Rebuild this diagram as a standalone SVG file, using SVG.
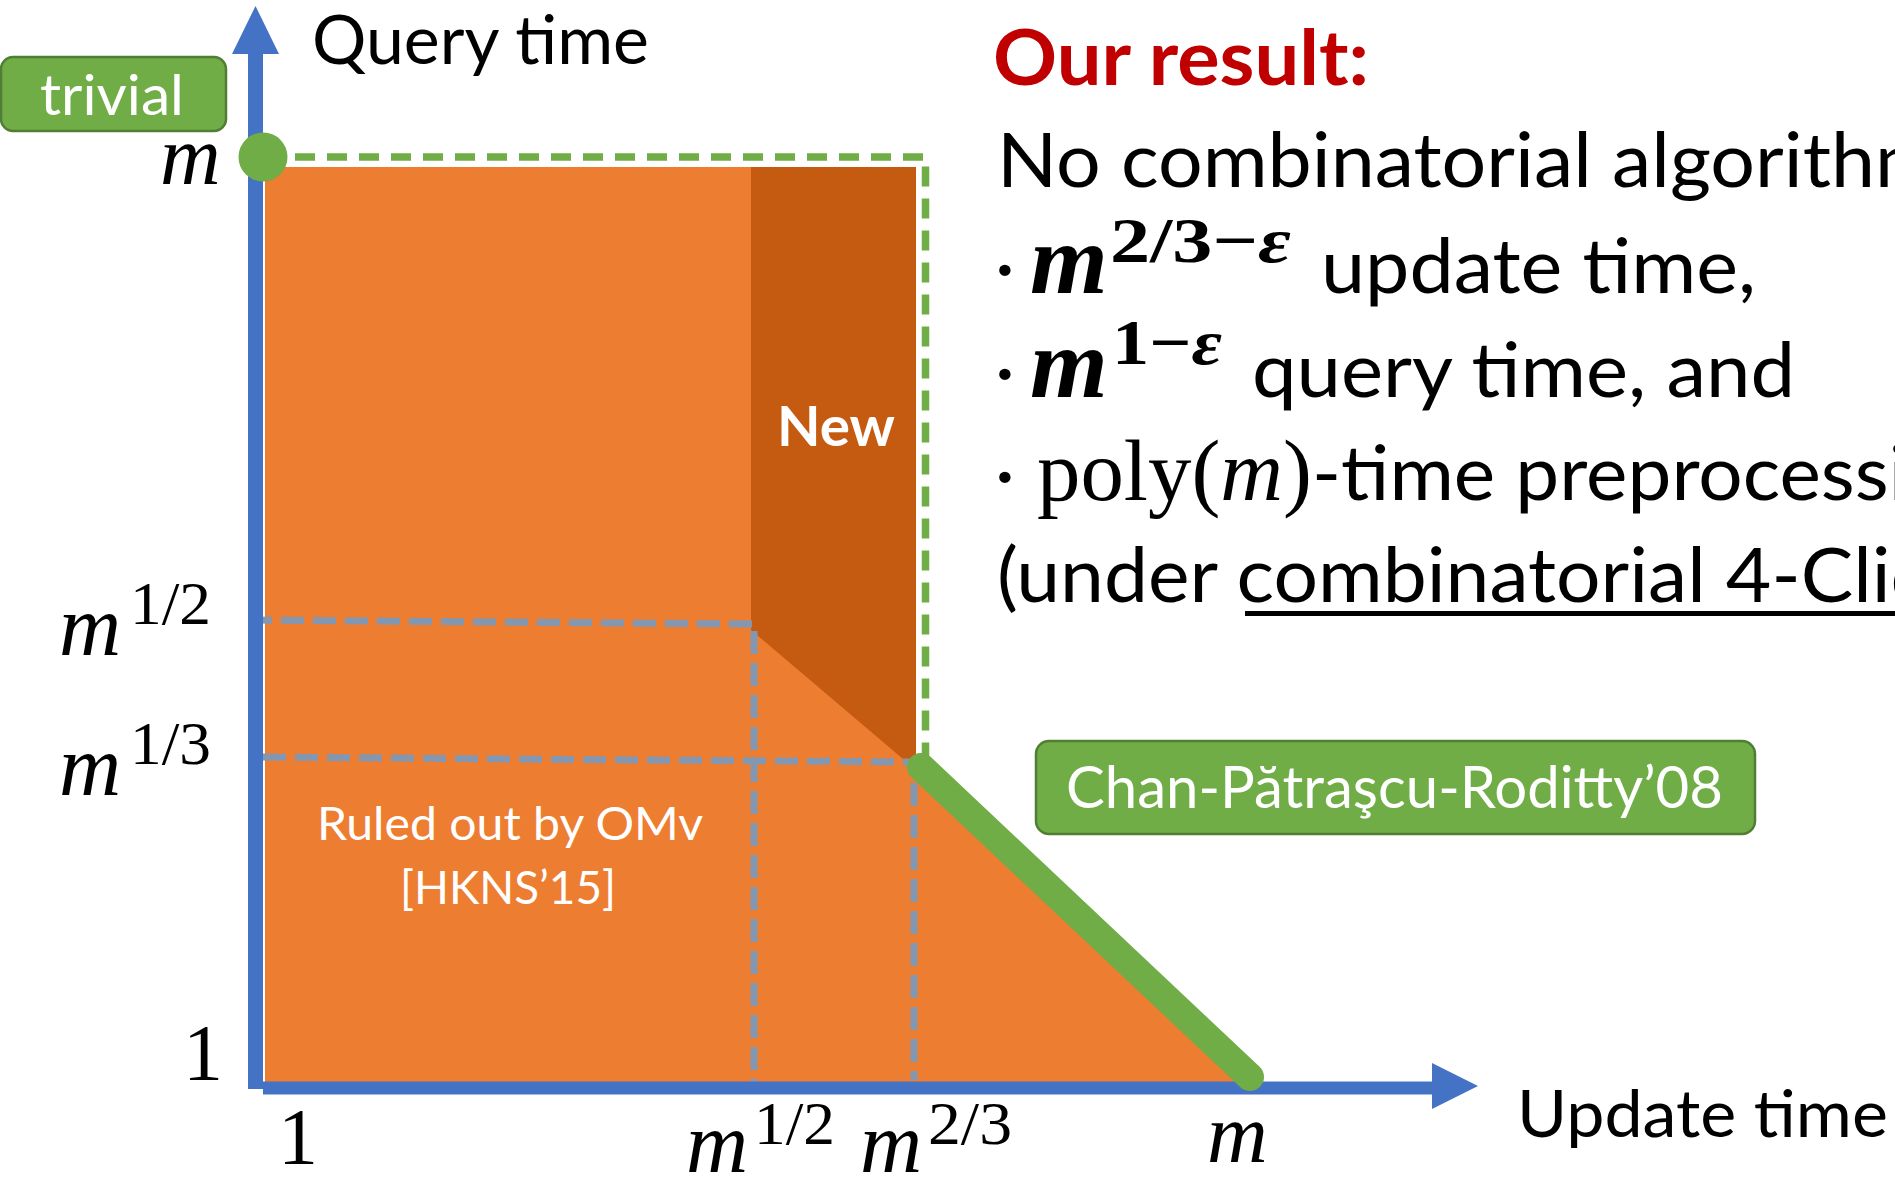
<svg xmlns="http://www.w3.org/2000/svg" width="1895" height="1181" viewBox="0 0 1895 1181">
<style>
.sans{font-family:Lato,"Open Sans","Liberation Sans",sans-serif;}
.serif{font-family:"Liberation Serif","DejaVu Serif",serif;}
.mi{font-family:"Liberation Serif","DejaVu Serif",serif;font-style:italic;}
.mb{font-family:"Liberation Serif","DejaVu Serif",serif;font-style:italic;font-weight:bold;}
.sb{font-family:"Liberation Serif","DejaVu Serif",serif;font-weight:bold;}
.white{fill:#FFFFFF;}
.black{fill:#000000;}
.gdash{fill:none;stroke:#8497B0;stroke-width:7;stroke-dasharray:23 9;}
.box{fill:#70AD47;stroke:#507E32;stroke-width:2.5;}
</style>
<rect x="0" y="0" width="1895" height="1181" fill="#FFFFFF"/>

<g id="regions">
  <polygon id="ruled-out" points="265,167 916,167 916,768 1242,1082 265,1082" fill="#ED7D31"/>
  <polygon id="new-region" points="751,167 916,167 916,770 751,630" fill="#C55A11"/>
</g>

<g id="guides">
  <path class="gdash" d="M249,620 L754,624 L754,1082"/>
  <path class="gdash" d="M263,757 L914,762 L914,1080"/>
  <path d="M263,157 L925.5,157 L925.5,762" fill="none" stroke="#70AD47" stroke-width="7.5" stroke-dasharray="20 12"/>
</g>

<g id="connectors">
  <line x1="255.5" y1="1089" x2="255.5" y2="50" stroke="#4472C4" stroke-width="15"/>
  <polygon points="255.5,6 232,54 279,54" fill="#4472C4"/>
  <line x1="263" y1="1088" x2="1436" y2="1088" stroke="#4472C4" stroke-width="13"/>
  <polygon points="1478,1086 1432,1063 1432,1109" fill="#4472C4"/>
  <line id="cpr-line" x1="921" y1="767" x2="1250" y2="1077" stroke="#70AD47" stroke-width="28" stroke-linecap="round"/>
</g>

<g id="trivial-dot">
  <circle cx="263" cy="157" r="24.5" fill="#70AD47"/>
</g>

<g id="node-trivial">
  <rect class="box" x="1" y="57" width="225" height="74" rx="12"/>
  <text class="sans white" x="40" y="115" font-size="57" textLength="144" lengthAdjust="spacingAndGlyphs">trivial</text>
</g>

<g id="node-cpr">
  <rect class="box" x="1036" y="741" width="719" height="93" rx="13"/>
  <text class="sans white" x="1066" y="808" font-size="58" textLength="657" lengthAdjust="spacingAndGlyphs">Chan-Pătraşcu-Roditty’08</text>
</g>

<g id="label-new">
  <text class="sans white" x="777" y="446" font-size="56" font-weight="bold" textLength="118" lengthAdjust="spacingAndGlyphs">New</text>
</g>

<g id="label-ruled">
  <text class="sans white" x="317" y="840" font-size="47" textLength="386" lengthAdjust="spacingAndGlyphs">Ruled out by OMv</text>
  <text class="sans white" x="400" y="904" font-size="47" textLength="216" lengthAdjust="spacingAndGlyphs">[HKNS’15]</text>
</g>

<g id="axis-titles">
  <text class="sans black" x="312" y="64" font-size="67" textLength="337" lengthAdjust="spacingAndGlyphs">Query time</text>
  <text class="sans black" x="1517" y="1137" font-size="66" textLength="371" lengthAdjust="spacingAndGlyphs">Update time</text>
</g>

<g id="tick-labels">
  <text class="mi black" x="160" y="184" font-size="84">m</text>
  <text class="mi black" x="59" y="655" font-size="86">m</text>
  <text class="serif black" x="130" y="624" font-size="62" textLength="81" lengthAdjust="spacingAndGlyphs">1/2</text>
  <text class="mi black" x="59" y="795" font-size="86">m</text>
  <text class="serif black" x="130" y="764" font-size="62" textLength="81" lengthAdjust="spacingAndGlyphs">1/3</text>
  <text class="serif black" x="183" y="1080" font-size="80">1</text>
  <text class="serif black" x="278" y="1164" font-size="80">1</text>
  <text class="mi black" x="686" y="1172" font-size="86">m</text>
  <text class="serif black" x="754" y="1144" font-size="62" textLength="81" lengthAdjust="spacingAndGlyphs">1/2</text>
  <text class="mi black" x="860" y="1172" font-size="86">m</text>
  <text class="serif black" x="928" y="1144" font-size="62" textLength="84" lengthAdjust="spacingAndGlyphs">2/3</text>
  <text class="mi black" x="1207" y="1162" font-size="84">m</text>
</g>

<g id="result-text">
  <text class="sans" x="993" y="85" font-size="77" font-weight="bold" fill="#C00000" textLength="376" lengthAdjust="spacingAndGlyphs">Our result:</text>
  <text class="sans black" x="997" y="187" font-size="76" textLength="943" lengthAdjust="spacingAndGlyphs">No combinatorial algorithm</text>

  <text class="sans black" x="995" y="293" font-size="76">·</text>
  <text class="mb black" x="1030" y="293" font-size="100">m</text>
  <text class="sb black" x="1110" y="262" font-size="64" textLength="181" lengthAdjust="spacingAndGlyphs">2/3−<tspan font-style="italic">ε</tspan></text>
  <text class="sans black" x="1321" y="293" font-size="76" textLength="435" lengthAdjust="spacingAndGlyphs">update time,</text>

  <text class="sans black" x="995" y="397" font-size="76">·</text>
  <text class="mb black" x="1030" y="397" font-size="100">m</text>
  <text class="sb black" x="1112" y="364" font-size="64" textLength="110" lengthAdjust="spacingAndGlyphs">1−<tspan font-style="italic">ε</tspan></text>
  <text class="sans black" x="1252" y="397" font-size="76" textLength="543" lengthAdjust="spacingAndGlyphs">query time, and</text>

  <text class="sans black" x="995" y="500" font-size="76">·</text>
  <text class="serif black" x="1037" y="500" font-size="86" textLength="275" lengthAdjust="spacingAndGlyphs">poly(<tspan font-style="italic">m</tspan>)</text>
  <text class="sans black" x="1312" y="500" font-size="76" textLength="680" lengthAdjust="spacingAndGlyphs">-time preprocessing</text>

  <text class="sans black" x="997" y="602" font-size="76" textLength="1023" lengthAdjust="spacingAndGlyphs">(under combinatorial 4-Clique</text>
  <rect x="1245" y="611" width="660" height="5" fill="#000000"/>
</g>
</svg>
